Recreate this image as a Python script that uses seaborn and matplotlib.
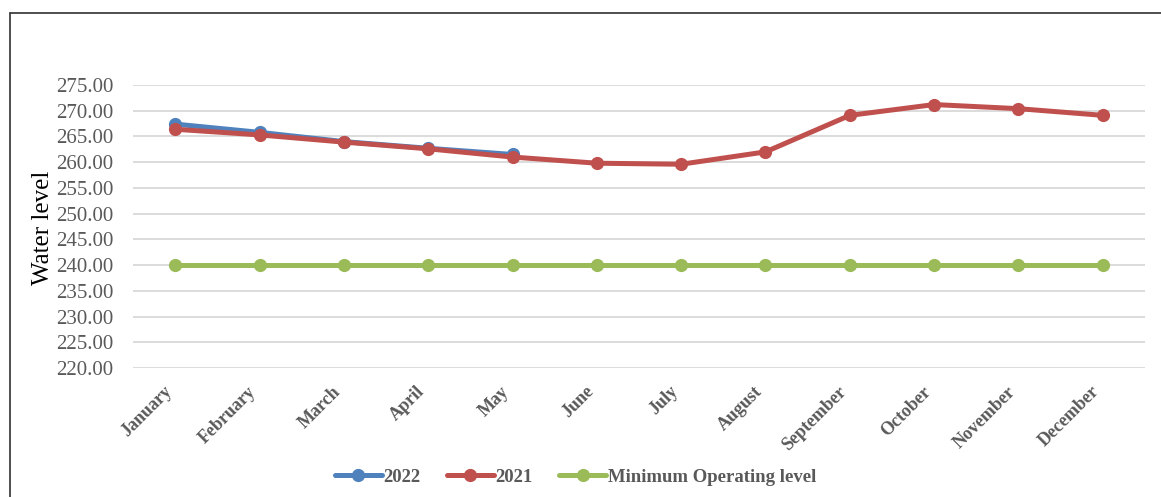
import matplotlib
matplotlib.use("Agg")
import matplotlib.pyplot as plt
from matplotlib.lines import Line2D
import seaborn as sns
import pandas as pd

months = ["January", "February", "March", "April", "May", "June", "July",
          "August", "September", "October", "November", "December"]
level_2022 = [267.4, 265.8, 264.0, 262.7, 261.5]
level_2021 = [266.4, 265.3, 263.9, 262.6, 261.0, 259.8, 259.6, 262.0,
              269.1, 271.2, 270.4, 269.1]
min_operating = [240.0] * 12
series_names = ["2022", "2021", "Minimum Operating level"]
colors = ["#4F81BD", "#C0504D", "#9BBB59"]
yticks = [220, 225, 230, 235, 240, 245, 250, 255, 260, 265, 270, 275]

rows = []
for name, vals in zip(series_names, [level_2022, level_2021, min_operating]):
    for i, v in enumerate(vals):
        rows.append({"idx": i, "month": months[i], "level": v, "series": name})
df = pd.DataFrame(rows)

sns.set_theme(style="white")
plt.rcParams["font.family"] = ["Liberation Serif", "DejaVu Serif"]

fig = plt.figure(figsize=(11.61, 4.97), dpi=100)
ax = fig.add_axes([133/1161, 1-368/497, (1145-133)/1161, (368-85)/497])

sns.lineplot(data=df, x="idx", y="level", hue="series", hue_order=series_names,
             palette=colors, marker="o", markersize=9.5, markeredgewidth=0,
             linewidth=3.6, sort=False, ax=ax, legend=False, zorder=3)

ax.set_xlim(-0.5, 11.5)
ax.set_ylim(220, 275)
ax.set_yticks(yticks)
ax.set_yticklabels([f"{v:.2f}" for v in yticks], color="#595959", fontsize=15)
ax.set_xticks(range(12))
ax.set_xticklabels([])
for i, m in enumerate(months):
    ax.annotate(m, xy=(i, 0), xycoords=("data", "axes fraction"),
                xytext=(-8.6, -10.8), textcoords="offset points",
                rotation=45, ha="right", va="top", rotation_mode="anchor",
                color="#595959", fontsize=13, fontweight="bold")
ax.tick_params(axis="y", length=0, pad=14)
ax.tick_params(axis="x", length=0)
ax.set_xlabel("")
ax.set_ylabel("")
ax.grid(axis="y", color="#D9D9D9", linewidth=1.3, zorder=0)
ax.grid(axis="x", visible=False)
for s in ax.spines.values():
    s.set_visible(False)

fig.text(43/1161, 1-228/497, "Water level", rotation=90, ha="center", va="center",
         fontsize=18, color="black")

handles = [Line2D([0], [0], color=c, linewidth=3.6, marker="o", markersize=9.5,
                  markeredgewidth=0) for c in colors]
leg = fig.legend(handles, series_names, loc="center", bbox_to_anchor=(0.4957, 1-477/497),
                 ncol=3, frameon=False, handlelength=2.5, handletextpad=0.1,
                 columnspacing=1.4, prop={"size": 13.5, "weight": "bold"})
for t in leg.get_texts():
    t.set_color("#595959")

fig.add_artist(Line2D([10/1161, 10/1161], [0, 1-12.5/497], color="#404040",
                      linewidth=1.3, transform=fig.transFigure))
fig.add_artist(Line2D([10/1161, 1], [1-12.5/497, 1-12.5/497], color="#404040",
                      linewidth=1.3, transform=fig.transFigure))

fig.savefig("out.png", dpi=100, facecolor="white")
